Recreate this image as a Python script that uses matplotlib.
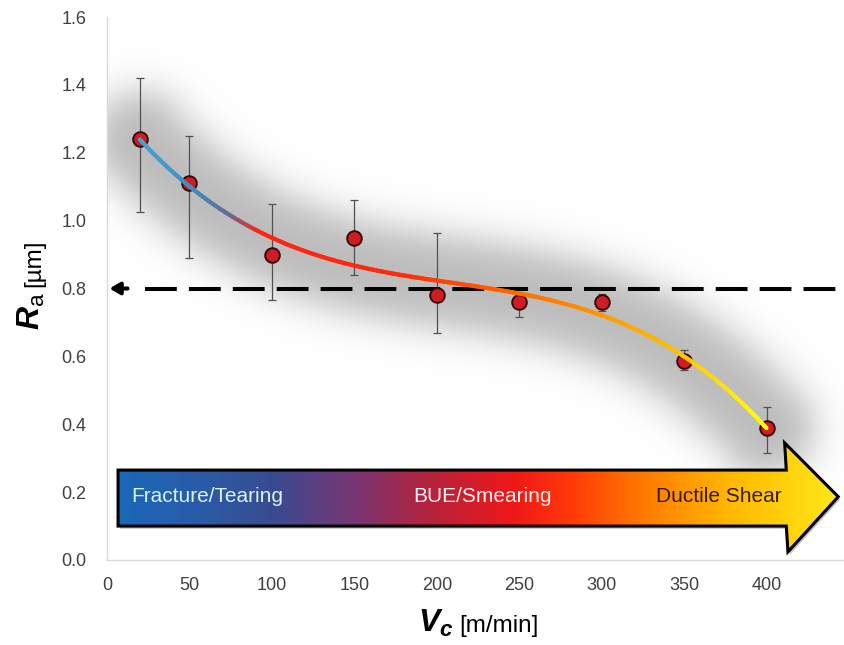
import numpy as np
import matplotlib as mpl
mpl.use("Agg")
import matplotlib.pyplot as plt
from matplotlib.collections import LineCollection
from matplotlib.colors import LinearSegmentedColormap
from matplotlib.patches import Polygon

mpl.rcParams['font.family'] = ['Liberation Sans', 'DejaVu Sans']
mpl.rcParams['mathtext.fontset'] = 'custom'
mpl.rcParams['mathtext.it'] = 'Liberation Sans:italic:bold'
mpl.rcParams['mathtext.rm'] = 'Liberation Sans'

# data
vc = [20, 50, 100, 150, 200, 250, 300, 350, 400]
ra = [1.24, 1.11, 0.90, 0.95, 0.78, 0.76, 0.76, 0.585, 0.39]
err_up = [0.18, 0.14, 0.15, 0.11, 0.185, 0.03, 0.025, 0.035, 0.06]
err_dn = [0.215, 0.22, 0.135, 0.11, 0.11, 0.045, 0.025, 0.025, 0.075]
threshold = 0.8
regimes = ["Fracture/Tearing", "BUE/Smearing", "Ductile Shear"]
xticks = [0, 50, 100, 150, 200, 250, 300, 350, 400]
yticks = [0.0, 0.2, 0.4, 0.6, 0.8, 1.0, 1.2, 1.4, 1.6]

fig = plt.figure(figsize=(8.44, 6.45), dpi=100)
ax = fig.add_axes([107/844, 85/645, 737/844, 543/645])
xmax = 447
ax.set_xlim(0, xmax)
ax.set_ylim(0, 1.6)

# cubic trendline
coef = np.polyfit(vc, ra, 3)
xf = np.linspace(vc[0], vc[-1], 300)
yf = np.polyval(coef, xf)

# soft grey glow around trendline
pxx = 737 / xmax      # pixels per x unit
pxy = 543 / 1.6       # pixels per y unit
gx = np.linspace(0, xmax, 300)
gy = np.linspace(0, 1.6, 270)
GX, GY = np.meshgrid(gx, gy)
cs = np.linspace(vc[0], vc[-1], 140)
cy = np.polyval(coef, cs)
d = np.full(GX.shape, 1e9)
for a, b in zip(cs, cy):
    d = np.minimum(d, np.hypot((GX - a) * pxx, (GY - b) * pxy))
f = 1 / (1 + np.exp((d - 46) / 12))
glow = np.zeros(GX.shape + (4,))
glow[..., 3] = 0.27 * f
ax.imshow(glow, extent=(0, xmax, 0, 1.6), origin='lower', aspect='auto',
          zorder=1, interpolation='bilinear')

# regime arrow with gradient fill
bx0, bx1, tipx = 6.7, 412, 443.5
by0, by1, hy0, hy1 = 0.100, 0.265, 0.024, 0.345
tipy = (by0 + by1) / 2 + 0.004
arrow_pts = [(bx0, by0), (bx0, by1), (bx1, by1), (bx1 - 1, hy1), (tipx, tipy),
             (bx1 + 1, hy0), (bx1, by0)]
shadow = Polygon([(x + 1.2, y - 0.008) for x, y in arrow_pts], closed=True,
                 fc='#00000040', ec='none', zorder=2)
ax.add_patch(shadow)
arrow = Polygon(arrow_pts, closed=True, fc='none', ec='black', lw=2.2, zorder=4)
ax.add_patch(arrow)
arrow_cmap = LinearSegmentedColormap.from_list('regime', [
    (0.00, '#1a68b8'), (0.12, '#2b5aa6'), (0.22, '#3b4a8e'), (0.33, '#7a3572'),
    (0.43, '#b4233e'), (0.55, '#f01818'), (0.63, '#ff3a08'), (0.73, '#ff7a00'),
    (0.85, '#ffb800'), (1.00, '#ffe818')])
grad = np.linspace(0, 1, 512).reshape(1, -1)
im = ax.imshow(grad, extent=(bx0, tipx, hy0, hy1), aspect='auto', cmap=arrow_cmap,
               zorder=3, interpolation='bilinear')
im.set_clip_path(arrow)

ax.text(15, 0.186, regimes[0], color='#d8f2ff', fontsize=15, va='center', ha='left', zorder=5)
ax.text(228, 0.186, regimes[1], color='#fff2f2', fontsize=15, va='center', ha='center', zorder=5)
ax.text(409, 0.186, regimes[2], color='#3a1800', fontsize=15, va='center', ha='right', zorder=5)

# threshold line with arrow pointing to axis
ax.plot([23, xmax], [threshold, threshold], color='black', lw=2.9,
        linestyle=(0, (7.9, 3.0)), zorder=6, solid_capstyle='butt')
ax.annotate('', xy=(1.5, threshold), xytext=(12.5, threshold),
            arrowprops=dict(arrowstyle='-|>,head_length=0.6,head_width=0.35',
                            color='black', lw=2.9, shrinkA=0, shrinkB=0), zorder=6)

# error bars and markers
ax.errorbar(vc, ra, yerr=[err_dn, err_up], fmt='none', ecolor='#505050',
            elinewidth=0.9, capsize=3, capthick=0.9, zorder=5)
ax.plot(vc, ra, 'o', ms=10.5, mfc='#d01c24', mec='#3a0505', mew=1.4, zorder=7)

# trendline with colour gradient
curve_cmap = LinearSegmentedColormap.from_list('curve', [
    (0.00, '#48a2d2'), (0.08, '#3b8fc0'), (0.14, '#6a6a90'), (0.19, '#ff2418'),
    (0.42, '#ff2a08'), (0.55, '#ff5a00'), (0.70, '#ff8c00'), (0.85, '#ffbe00'),
    (1.00, '#ffff10')])
pts = np.column_stack([xf, yf]).reshape(-1, 1, 2)
segs = np.concatenate([pts[:-1], pts[1:]], axis=1)
lc = LineCollection(segs, cmap=curve_cmap, linewidth=3.0, zorder=8, capstyle='round')
lc.set_array((xf[:-1] - vc[0]) / (vc[-1] - vc[0]))
lc.set_clim(0, 1)
ax.add_collection(lc)

# axes styling
for s in ['top', 'right']:
    ax.spines[s].set_visible(False)
for s in ['left', 'bottom']:
    ax.spines[s].set_color('#d9d9d9')
    ax.spines[s].set_linewidth(1.0)
ax.set_xticks(xticks)
ax.set_yticks(yticks)
ax.set_yticklabels([f"{t:.1f}" for t in yticks])
ax.tick_params(length=0, labelsize=13, labelcolor='#404040')
ax.tick_params(axis='x', pad=12)
ax.tick_params(axis='y', pad=15)

# axis titles
fig.text(453/844, 1 - 632/645, r"$V_c$", fontsize=23, ha='right', va='baseline')
fig.text(459/844, 1 - 632/645, "[m/min]", fontsize=17.5, ha='left', va='baseline')
fig.text(40/844, 1 - 292/645, r"$R_{\mathrm{a}}$", fontsize=23, ha='right', va='baseline',
         rotation=90, rotation_mode='anchor')
fig.text(40/844, 1 - 287/645, "[µm]", fontsize=17.5, ha='left', va='baseline', rotation=90,
         rotation_mode='anchor')

fig.savefig('out.png', dpi=100)
